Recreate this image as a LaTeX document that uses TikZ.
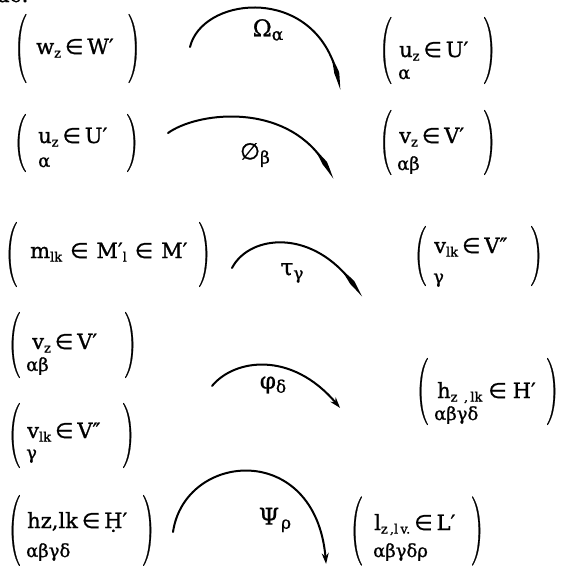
\documentclass[tikz,border=0pt]{standalone}
\usepackage{graphicx}
\usepackage{fontspec}
\setmainfont{DejaVu Serif}
\newfontfamily\mf[FakeBold=1]{DejaVu Serif}
\newfontfamily\symf[FakeBold=1]{DejaVu Sans}
\newfontfamily\lmf[FakeBold=0.6]{Latin Modern Roman}
\usetikzlibrary{arrows.meta,bending}
\newcommand\sbs[1]{\raisebox{-3.5pt}{\fontsize{13}{13}\selectfont #1}}
\newcommand\inn[1][4pt]{\hspace{#1}{\symf ∈}\hspace{#1}}
\newcommand\pr{{\symf ′}}
\newcommand\ppr{{\symf ″}}
\newcommand\LP[1]{\scalebox{1.55}[\fpeval{#1/24}]{\lmf\fontsize{24}{24}\selectfont(}}
\newcommand\RP[1]{\scalebox{1.55}[\fpeval{#1/24}]{\lmf\fontsize{24}{24}\selectfont)}}
\tikzset{
  txt/.style={anchor=base west, inner sep=0pt, font=\mf\fontsize{21}{24}\selectfont},
  gk/.style={anchor=base west, inner sep=0pt, font=\mf\fontsize{18}{20}\selectfont},
  par/.style={inner sep=0pt},
  lab/.style={inner sep=0pt, font=\mf\fontsize{23}{26}\selectfont},
  bow/.style={line width=2pt, line cap=round},
  tap/.style={bow, -{Kite[length=38pt,width=5pt,inset=20pt,bend]}},
  arr/.style={bow, -{Stealth[length=11pt,width=7pt,bend]}}
}
\newcommand\lsub[1]{\raisebox{-4pt}{\fontsize{17}{17}\selectfont #1}}
\begin{document}
\begin{tikzpicture}[x=1pt,y=-1pt]
\useasboundingbox (0,0) rectangle (563,566);
% fragment of text cut at the top edge
\node[txt] (frag) at (-3,2) {ác:};
% ---------- row 1
\node[par] (p1a) at (21.5,48.5) {\LP{69}};
\node[txt] (t1a) at (36,54) {w\sbs{z}\inn W\pr};
\node[par] (p1b) at (133.5,48.5) {\RP{69}};
\node[par] (p1c) at (386.5,50.5) {\LP{67}};
\node[txt] (t1c) at (399,57) {u\sbs{z}\inn U\pr};
\node[gk]  (g1c) at (398,79) {α};
\node[par] (p1d) at (489,50.5) {\RP{67}};
\coordinate (o1) at (190,47); \coordinate (o2) at (340,90);
\draw[tap] (o1) .. controls (203,-7) and (327,-17) .. (o2);
\node[lab] (l1) at (268,30) {Ω\lsub{α}};
% ---------- row 2
\node[par] (p2a) at (21,143) {\LP{58}};
\node[txt] (t2a) at (38,143) {u\sbs{z}\inn U\pr};
\node[gk]  (g2a) at (38,167) {α};
\node[par] (p2b) at (132,143) {\RP{58}};
\node[par] (p2c) at (386.5,142.5) {\LP{65}};
\node[txt] (t2c) at (399,143) {v\sbs{z}\inn V\pr};
\node[gk]  (g2c) at (397,170) {αβ};
\node[par] (p2d) at (489,142.5) {\RP{65}};
\coordinate (o3) at (168,133); \coordinate (o4) at (333,179);
\draw[tap] (o3) .. controls (200,110) and (300,100) .. (o4);
\node[lab] (l2) at (255,155) {{\symf ∅}\lsub{β}};
% ---------- row 3
\node[par] (p3a) at (12,254.5) {\LP{65}};
\node[txt] (t3a) at (30,258) {m\sbs{lk}\inn[8pt]M\pr\sbs{l}\inn[8pt]M\pr};
\node[par] (p3b) at (204,254.5) {\RP{65}};
\node[par] (p3c) at (421,256) {\LP{60}};
\node[txt] (t3c) at (434,253) {v\sbs{lk}\inn V\ppr};
\node[gk]  (g3c) at (433,283) {γ};
\node[par] (p3d) at (536,256) {\RP{60}};
\coordinate (o5) at (232,268); \coordinate (o6) at (362,297);
\draw[tap] (o5) .. controls (250,233) and (320,226) .. (o6);
\node[lab] (l3) at (292,273) {τ\lsub{γ}};
% ---------- row 4
\node[par] (p4a) at (15,345) {\LP{66}};
\node[txt] (t4a) at (32,349) {v\sbs{z}\inn V\pr};
\node[gk]  (g4a) at (26,371) {αβ};
\node[par] (p4b) at (130,345) {\RP{66}};
\node[par] (p4c) at (423,391.5) {\LP{67}};
\node[txt] (t4c) at (437,398) {h\sbs{z\enspace,\,lk}\inn[6pt]H\pr};
\node[gk]  (g4c) at (434,420) {αβγδ};
\node[par] (p4d) at (552,391.5) {\RP{67}};
\coordinate (o7) at (212,386); \coordinate (o8) at (340,408);
\draw[arr] (o7) .. controls (235,358) and (295,350) .. (o8);
\node[lab] (l4) at (273,385) {φ\lsub{δ}};
% ---------- row 5
\node[par] (p5a) at (15,435.5) {\LP{65}};
\node[txt] (t5a) at (27,438) {v\sbs{lk}\inn V\ppr};
\node[gk]  (g5a) at (26,459) {γ};
\node[par] (p5b) at (128,435.5) {\RP{65}};
% ---------- row 6
\node[par] (p6a) at (15,530.5) {\LP{71}};
\node[txt] (t6a) at (27,528) {hz,lk\inn \d{H}\pr};
\node[gk]  (g6a) at (26,557) {αβγδ};
\node[par] (p6b) at (148,530.5) {\RP{71}};
\node[par] (p6c) at (357,531) {\LP{69}};
\node[txt] (t6c) at (374,530) {l\sbs{z\,,l\,v.}\inn L\pr};
\node[gk]  (g6c) at (373,557) {αβγδρ};
\node[par] (p6d) at (477,531) {\RP{69}};
\coordinate (o9) at (173,532); \coordinate (o10) at (326,564);
\draw[arr] (o9) .. controls (185,450) and (320,440) .. (o10);
\node[lab] (l5) at (275,520) {Ψ\hspace{2pt}\lsub{ρ}};
\end{tikzpicture}
\end{document}
